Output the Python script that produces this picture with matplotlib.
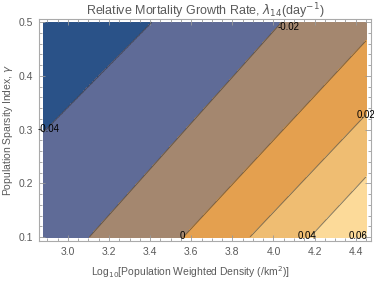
import numpy as np
import matplotlib.pyplot as plt
from matplotlib.ticker import MultipleLocator, FormatStrFormatter

# contour levels of lambda_14 and where each contour line meets gamma=0.1 / gamma=0.5
levels = [-0.04, -0.02, 0.0, 0.02, 0.04, 0.06]
x_at_bottom = [2.377, 3.105, 3.562, 3.886, 4.178, 4.430]
x_at_top = [3.408, 4.040, 4.535, 4.876, 5.150, 5.420]
x_range = [2.88, 4.45]
gamma_range = [0.1, 0.5]

band_colors = ['#2a5288', '#5f6b97', '#a4876f', '#e4a04f',
               '#efbd72', '#fcda99', '#fee8b8']

plt.rcParams['font.family'] = ['Liberation Sans', 'DejaVu Sans']
grey = '#5a5a5a'

xs = np.linspace(x_range[0], x_range[1], 500)
gs = np.linspace(gamma_range[0], gamma_range[1], 400)
X, G = np.meshgrid(xs, gs)
Z = np.empty_like(X)
xb = np.array(x_at_bottom)
xt = np.array(x_at_top)
for i, g in enumerate(gs):
    t = (g - gamma_range[0]) / (gamma_range[1] - gamma_range[0])
    xc = xb + t * (xt - xb)
    Z[i] = np.interp(xs, xc, levels, left=-0.05, right=0.07)

fig = plt.figure(figsize=(3.74, 2.83), dpi=100)
ax = fig.add_axes([39/374, 1 - 241/283, 332/374, 222/283])

bounds = [-0.06] + levels + [0.08]
ax.contourf(X, G, Z, levels=bounds, colors=band_colors)
ax.contour(X, G, Z, levels=levels, colors='#333333', linewidths=0.7,
           alpha=0.6, linestyles='solid')

ax.set_xlim(2.86, 4.474)
ax.set_ylim(0.0926, 0.5056)

# contour labels at the end of each line
def line_x(k, g):
    t = (g - gamma_range[0]) / (gamma_range[1] - gamma_range[0])
    return xb[k] + t * (xt[k] - xb[k])

def line_g(k, x):
    t = (x - xb[k]) / (xt[k] - xb[k])
    return gamma_range[0] + t * (gamma_range[1] - gamma_range[0])

label_pos = [
    (x_range[0], line_g(0, x_range[0]), (4, 2)),
    (line_x(1, gamma_range[1]), gamma_range[1], (5, -3.5)),
    (line_x(2, gamma_range[0]), gamma_range[0], (-1, 1)),
    (x_range[1], line_g(3, x_range[1]), (0, 0)),
    (line_x(4, gamma_range[0]), gamma_range[0], (-2, 1)),
    (line_x(5, gamma_range[0]), gamma_range[0], (-3, 1)),
]
for lev, (lx, ly, off) in zip(levels, label_pos):
    txt = '0' if lev == 0 else '%.2f' % lev
    t = ax.annotate(txt, (lx, ly), xytext=off, textcoords='offset points',
                    ha='center', va='center', fontsize=7, color='black',
                    annotation_clip=False)
    t.set_clip_on(True)

ax.xaxis.set_major_locator(MultipleLocator(0.2))
ax.xaxis.set_minor_locator(MultipleLocator(0.05))
ax.yaxis.set_major_locator(MultipleLocator(0.1))
ax.yaxis.set_minor_locator(MultipleLocator(0.02))
ax.xaxis.set_major_formatter(FormatStrFormatter('%.1f'))
ax.yaxis.set_major_formatter(FormatStrFormatter('%.1f'))
ax.tick_params(which='both', direction='in', top=True, right=True,
               color='#999999', labelcolor=grey, labelsize=7.5, width=0.6)
ax.tick_params(which='major', length=4, pad=4)
ax.tick_params(which='minor', length=2)
for s in ax.spines.values():
    s.set_color('#aaaaaa')
    s.set_linewidth(0.8)

fig.text(205/374, 1 - 11/283, r'Relative Mortality Growth Rate, $\lambda_{14}$(day$^{-1}$)',
         ha='center', va='center', fontsize=9, color=grey)
fig.text(190/374, 1 - 272/283, r'Log$_{10}$[Population Weighted Density (/km$^2$)]',
         ha='center', va='center', fontsize=7.5, color=grey)
fig.text(8/374, 1 - 130/283, r'Population Sparsity Index, $\gamma$',
         ha='center', va='center', rotation=90, fontsize=7.5, color=grey)

fig.savefig('out.png', dpi=100)
